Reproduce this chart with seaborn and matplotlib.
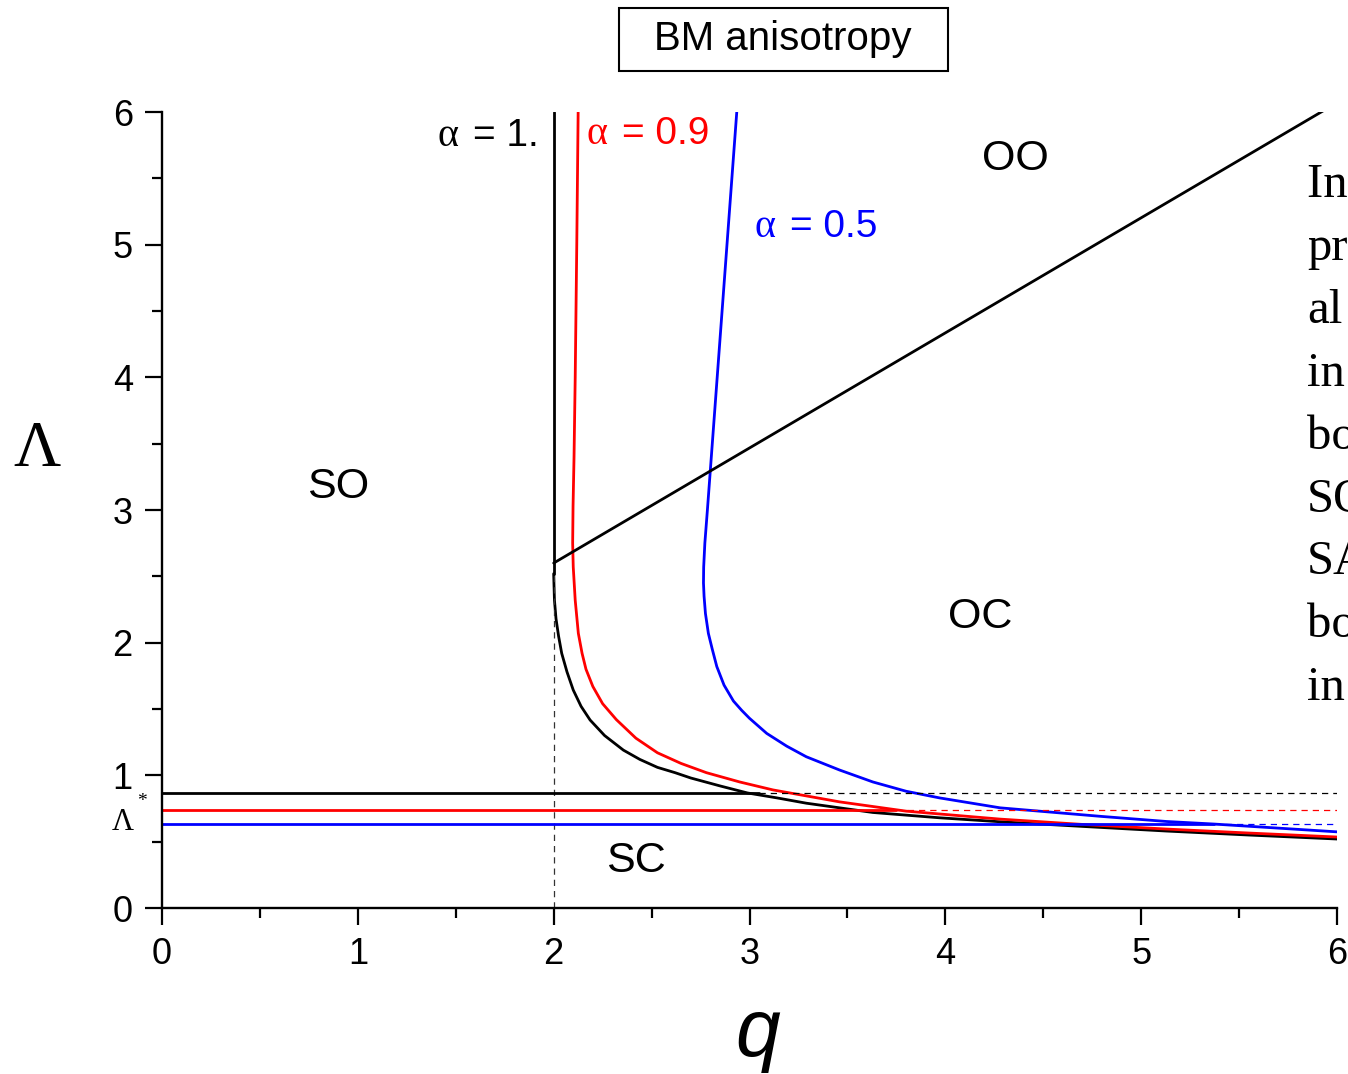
import matplotlib
matplotlib.use("Agg")
import matplotlib.pyplot as plt
from matplotlib.patches import Rectangle
from matplotlib.ticker import MultipleLocator
import seaborn as sns

# ---------------- data ----------------
# alpha = 1.0 : vertical branch and lower boundary
q_a10_top = [2.0, 2.0]
lam_a10_top = [6.0, 2.52]
q_a10 = [2.0, 2.004, 2.012, 2.025, 2.041, 2.068, 2.10, 2.14, 2.186, 2.26, 2.356, 2.44,
         2.53, 2.62, 2.70, 2.85, 2.99, 3.14, 3.29, 3.46, 3.63, 3.80, 3.97, 4.28,
         4.70, 5.13, 5.55, 6.0]
lam_a10 = [2.52, 2.32, 2.18, 2.05, 1.92, 1.78, 1.643, 1.52, 1.417, 1.30, 1.19, 1.12,
           1.06, 1.02, 0.98, 0.92, 0.867, 0.83, 0.79, 0.755, 0.72, 0.70, 0.68, 0.65,
           0.615, 0.58, 0.55, 0.52]

# alpha = 0.9
q_a09 = [2.125, 2.118, 2.110, 2.104, 2.099, 2.097, 2.100, 2.110, 2.126, 2.145, 2.165,
         2.20, 2.25, 2.32, 2.42, 2.53, 2.65, 2.78, 2.95, 3.12, 3.29, 3.46, 3.63, 3.80,
         4.28, 4.70, 5.13, 5.55, 6.0]
lam_a09 = [6.0, 5.0, 4.0, 3.4, 3.03, 2.75, 2.57, 2.32, 2.07, 1.92, 1.80, 1.67, 1.54,
           1.42, 1.28, 1.17, 1.09, 1.02, 0.95, 0.89, 0.845, 0.80, 0.765, 0.73,
           0.67, 0.63, 0.595, 0.565, 0.535]

# alpha = 0.5
q_a05 = [2.935, 2.91, 2.885, 2.86, 2.835, 2.815, 2.80, 2.785, 2.772, 2.766,
         2.765, 2.768, 2.775, 2.79, 2.81, 2.833, 2.87, 2.918, 2.96, 3.0, 3.088, 3.19,
         3.29, 3.46, 3.63, 3.80, 3.97, 4.28, 4.80, 5.13, 5.37, 6.0]
lam_a05 = [6.0, 5.5, 5.0, 4.5, 4.0, 3.6, 3.3, 3.0, 2.75, 2.57,
           2.45, 2.35, 2.22, 2.07, 1.95, 1.82, 1.68, 1.56, 1.49, 1.43, 1.316, 1.22,
           1.14, 1.04, 0.95, 0.88, 0.83, 0.755, 0.69, 0.652, 0.633, 0.574]

# OO / OC boundary
q_diag = [2.0, 6.0]
lam_diag = [2.6, 6.07]

# Lambda* levels: solid up to the crossing, dashed beyond
lam_star = [0.867, 0.739, 0.633]
q_cross = [3.05, 3.75, 5.37]
line_colors = ["black", "#ff0000", "#0000ff"]

# dashed guide at q = 2
q_guide = [2.0, 2.0]
lam_guide = [0.0, 2.52]

region_names = ["SO", "OO", "OC", "SC"]
region_q = [0.90, 4.357, 4.178, 2.421]
region_lam = [3.094, 5.566, 2.114, 0.268]

side_words = ["In the", "pr", "al", "in", "bo", "SO", "SA", "bo", "in"]

# ---------------- figure ----------------
sns.set_theme(style="ticks")
plt.rcParams["font.family"] = ["Liberation Sans", "DejaVu Sans"]
plt.rcParams["text.color"] = "black"
plt.rcParams["axes.labelcolor"] = "black"

W, H = 1348, 1074
fig = plt.figure(figsize=(W / 100, H / 100), dpi=100)
ax = fig.add_axes([162 / W, 1 - 908 / H, (1337 - 162) / W, (908 - 112) / H])

lw = 2.0
sns.lineplot(x=q_a10_top, y=lam_a10_top, sort=False, estimator=None, color="black", lw=lw, ax=ax)
sns.lineplot(x=q_a10, y=lam_a10, sort=False, estimator=None, color="black", lw=lw, ax=ax)
sns.lineplot(x=q_a09, y=lam_a09, sort=False, estimator=None, color="#ff0000", lw=lw, ax=ax)
sns.lineplot(x=q_a05, y=lam_a05, sort=False, estimator=None, color="#0000ff", lw=lw, ax=ax)
sns.lineplot(x=q_diag, y=lam_diag, sort=False, estimator=None, color="black", lw=lw, ax=ax)
sns.lineplot(x=q_guide, y=lam_guide, sort=False, estimator=None, color="#333333", lw=0.9,
             linestyle=(0, (5, 4)), ax=ax)

for lv, qc, col in zip(lam_star, q_cross, line_colors):
    sns.lineplot(x=[0.0, qc], y=[lv, lv], sort=False, estimator=None, color=col, lw=lw, ax=ax)
    sns.lineplot(x=[qc, 6.0], y=[lv, lv], sort=False, estimator=None, color=col, lw=0.9,
                 linestyle=(0, (5, 4)), ax=ax)

ax.set_xlim(0, 6)
ax.set_ylim(0, 6)
ax.set_xlabel("")
ax.set_ylabel("")
for s in ["top", "right"]:
    ax.spines[s].set_visible(False)
for s in ["left", "bottom"]:
    ax.spines[s].set_linewidth(1.7)
    ax.spines[s].set_color("black")
ax.set_xticks(range(7))
ax.set_yticks(range(7))
ax.xaxis.set_minor_locator(MultipleLocator(0.5))
ax.yaxis.set_minor_locator(MultipleLocator(0.5))
ax.tick_params(which="major", length=12, width=1.6, direction="out", labelsize=26,
               color="black", labelcolor="black")
ax.tick_params(axis="x", which="major", pad=9)
ax.tick_params(axis="y", which="major", pad=9)
ax.tick_params(which="minor", length=7, width=1.6, direction="out", color="black")
ax.grid(False)

# region labels
for name, qx, ly in zip(region_names, region_q, region_lam):
    ax.text(qx, ly, name, fontsize=31, ha="center", va="baseline", color="black")

# alpha labels: serif alpha + sans text
serif = ["Liberation Serif", "DejaVu Serif"]
ax.text(1.405, 5.744, "α", fontsize=29, family=serif, color="black", va="baseline")
ax.text(1.588, 5.744, "= 1.", fontsize=28, color="black", va="baseline")
ax.text(2.168, 5.759, "α", fontsize=29, family=serif, color="#ff0000", va="baseline")
ax.text(2.348, 5.759, "= 0.9", fontsize=28, color="#ff0000", va="baseline")
ax.text(3.026, 5.058, "α", fontsize=29, family=serif, color="#0000ff", va="baseline")
ax.text(3.207, 5.058, "= 0.5", fontsize=28, color="#0000ff", va="baseline")

# axis labels
ax.text(-0.64, 3.45, "Λ", fontsize=47, family=serif, ha="center", va="center",
        clip_on=False, color="black")
ax.text(3.04, -1.115, "q", fontsize=58, style="italic", ha="center", va="baseline",
        clip_on=False, color="black")
ax.text(-0.255, 0.588, "Λ", fontsize=22, family=serif, ha="left", va="baseline",
        clip_on=False, color="black")
ax.text(-0.105, 0.769, "*", fontsize=14, family=serif, ha="center", va="baseline",
        clip_on=False, color="black")

# title box
fig.patches.append(Rectangle((619 / W, 1 - 71 / H), 329 / W, 63 / H,
                             transform=fig.transFigure, fill=False, lw=1.5,
                             edgecolor="black"))
fig.text(783 / W, 1 - 39 / H, "BM anisotropy", fontsize=29, ha="center", va="center",
         color="black")

# paragraph text cut by the right edge of the picture
for i, w in enumerate(side_words):
    base = 197 + i * 62.9
    fig.text(1307 / W, 1 - base / H, w, fontsize=35, family=serif, ha="left",
             va="baseline", color="black")

fig.savefig("out.png", dpi=100)
